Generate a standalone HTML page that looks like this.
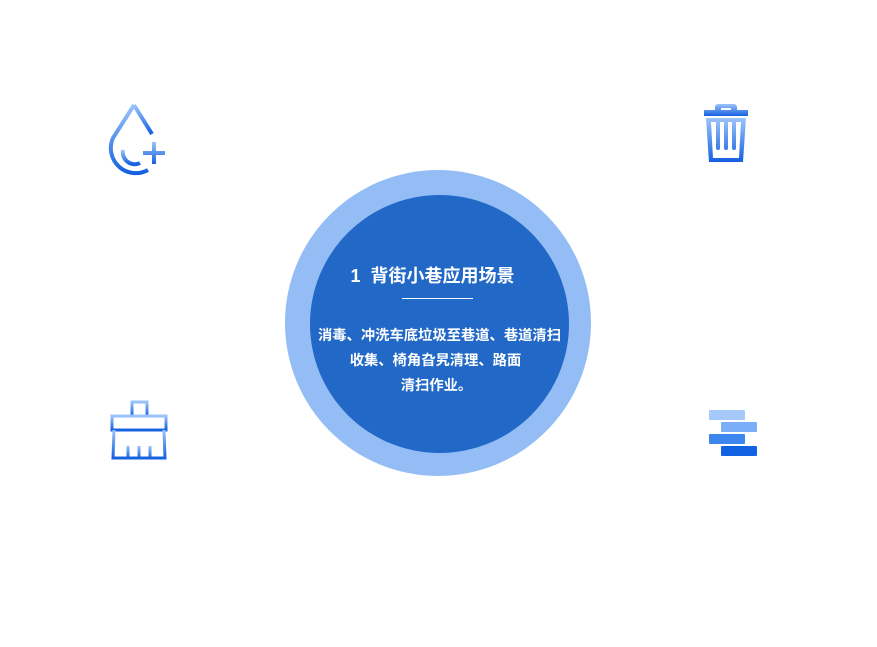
<!DOCTYPE html>
<html><head><meta charset="utf-8">
<style>
html,body{margin:0;padding:0;background:#fff;}
body{width:877px;height:647px;position:relative;overflow:hidden;font-family:"Liberation Sans","Noto Sans CJK SC",sans-serif;}
.outer{position:absolute;left:285px;top:170px;width:306px;height:306px;border-radius:50%;background:#94bdf6;}
.inner{position:absolute;left:310px;top:195px;width:259px;height:258px;border-radius:50%;background:#2268c6;}
.t{position:absolute;left:0;width:877px;text-align:center;color:#fff;font-weight:bold;}
.line{position:absolute;left:402px;top:298px;width:71px;height:1px;background:#fff;}
svg{position:absolute;}
</style></head><body>
<div class="outer"></div>
<div class="inner"></div>
<div class="t" style="top:262px;font-size:18px;left:-6px;">1&nbsp;&nbsp;背街小巷应用场景</div>
<div class="line"></div>
<div class="t" style="top:324px;font-size:14.3px;left:1px;">消毒、冲洗车底垃圾至巷道、巷道清扫</div>
<div class="t" style="top:349px;font-size:14.3px;left:-3px;">收集、椅角旮旯清理、路面</div>
<div class="t" style="top:374px;font-size:14.3px;left:-2px;">清扫作业。</div>

<svg width="877" height="647" style="left:0;top:0">
<defs>
<linearGradient id="g" x1="0" y1="0" x2="0" y2="1">
<stop offset="0" stop-color="#9cc4fb"/><stop offset="1" stop-color="#1560e0"/>
</linearGradient>
</defs>
<g fill="none" stroke="url(#g)" stroke-width="4" stroke-linecap="butt">
<path d="M134 105 L113 138 A25 25 0 0 0 148 170"/>
<path d="M134 105 L152 134"/>
<path d="M123 150 A12 12 0 0 0 140 163"/>
<path d="M143 153 H165 M154 142 V164"/>
</g>
<g fill="url(#g)">
<path d="M718 104 h16 a3 3 0 0 1 3 3 v3 h11 v6 h-44 v-6 h11 v-3 a3 3 0 0 1 3 -3z M721 108 v2 h10 v-2z"/>
<path d="M706 118 h40 l-3 44 h-34z M711 122 l2 36 h26 l2 -36 h-5 v26 a2 2 0 0 1 -4 0 v-26 h-4 v26 a2 2 0 0 1 -4 0 v-26 h-4 v26 a2 2 0 0 1 -4 0 v-26z"/>
</g>
<g fill="none" stroke="url(#g)" stroke-width="3">
<rect x="132" y="402" width="15" height="14"/>
<rect x="112" y="416" width="54" height="14"/>
<path d="M114 430 l-1 28 h52 l-1 -28"/>
<path d="M128 446 v12 M139 446 v12 M150 446 v12"/>
</g>
<rect x="709" y="410" width="36" height="10" rx="1" fill="#a6c9fb"/>
<rect x="721" y="422" width="36" height="10" rx="1" fill="#7aaef7"/>
<rect x="709" y="434" width="36" height="10" rx="1" fill="#3c86ee"/>
<rect x="721" y="446" width="36" height="10" rx="1" fill="#1263e3"/>
</svg>
</body></html>
